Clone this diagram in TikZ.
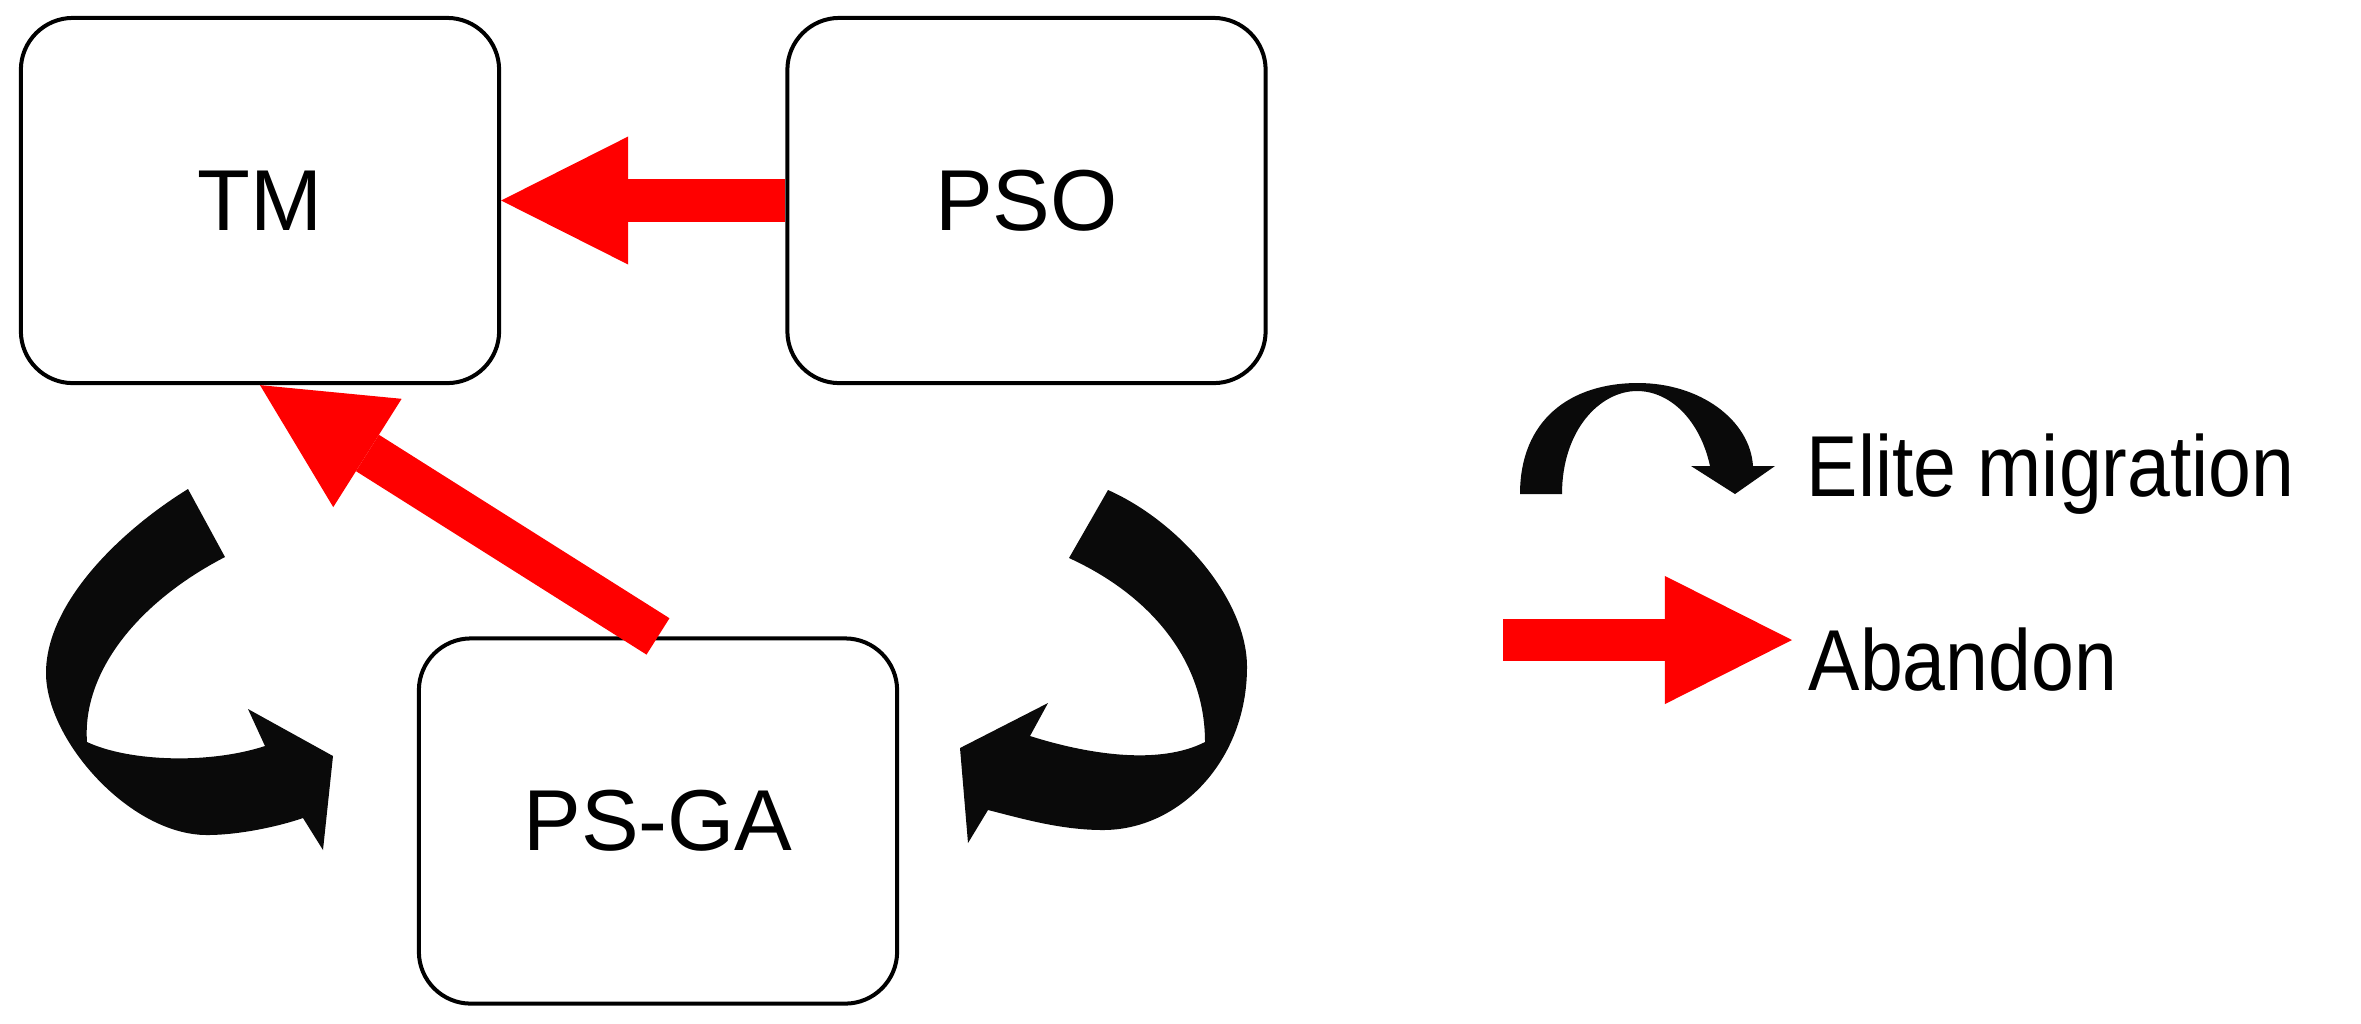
\documentclass[tikz,border=0pt]{standalone}
\usepackage{fontspec}
\usepackage{graphicx}
\setmainfont{Liberation Sans}
\usetikzlibrary{arrows.meta}
\begin{document}
\begin{tikzpicture}[x=0.01cm,y=-0.01cm,
  box/.style={draw=black, line width=0.04cm, rounded corners=0.52cm,
    minimum width=4.78cm, minimum height=3.65cm, inner sep=0pt,
    font=\fontsize{24.6}{29}\selectfont},
  abandon/.style={draw=red, line width=0.43cm,
    -{Triangle[length=1.27cm,width=1.28cm,line width=0pt]}},
  elite/.style={fill=black!96},
  legtext/.style={anchor=base west, inner sep=0pt,
    font=\fontsize{24.6}{29}\selectfont}]
\useasboundingbox (0,0) rectangle (2361,1023);

% boxes
\node[box] (tm) at (260,200.5) {TM};
\node[box] (pso) at (1026.5,200.5) {PSO};
\node[box] (psga) at (658,821) {PS-GA};

% abandon arrows
\draw[abandon] (pso.west) -- (tm.east);
\draw[abandon] (psga.north) -- (tm.south);

% left elite migration arrow
\fill[elite] (188,489)
  .. controls (120,531) and (46,603) .. (46,673)
  .. controls (46,740) and (130,835) .. (207,835)
  .. controls (240,835) and (280,826) .. (303,818)
  -- (323,850) -- (333,756) -- (248,709) -- (265,746)
  .. controls (210,764) and (130,762) .. (87,742)
  .. controls (82,672) and (138,602) .. (225,557)
  -- cycle;

% right elite migration arrow
\fill[elite] (1108,490)
  .. controls (1180,522) and (1247,600) .. (1247,667)
  .. controls (1247,760) and (1180,830) .. (1103,830)
  .. controls (1060,830) and (1020,818) .. (988,810)
  -- (968,843) -- (960,748) -- (1048,703) -- (1030,736)
  .. controls (1090,755) and (1160,765) .. (1205,742)
  .. controls (1205,660) and (1150,595) .. (1069,558)
  -- cycle;

% legend: elite migration
\fill[elite] (1520,494)
  .. controls (1520,420) and (1570,383) .. (1638,383)
  .. controls (1700,383) and (1750,420) .. (1753,466)
  -- (1775,466) -- (1735,494) -- (1691,466) -- (1710,466)
  .. controls (1700,420) and (1670,391) .. (1637,391)
  .. controls (1600,391) and (1562,430) .. (1562,494)
  -- cycle;
\node[legtext] (elitetext) at (1806,496) {\scalebox{0.89}[1]{Elite migration}};

% legend: abandon
\coordinate (legs) at (1503,640);
\coordinate (lege) at (1792,640);
\draw[abandon, line width=0.42cm] (legs) -- (lege);
\node[legtext] (abandontext) at (1808,690) {\scalebox{0.89}[1]{Abandon}};
\end{tikzpicture}
\end{document}
